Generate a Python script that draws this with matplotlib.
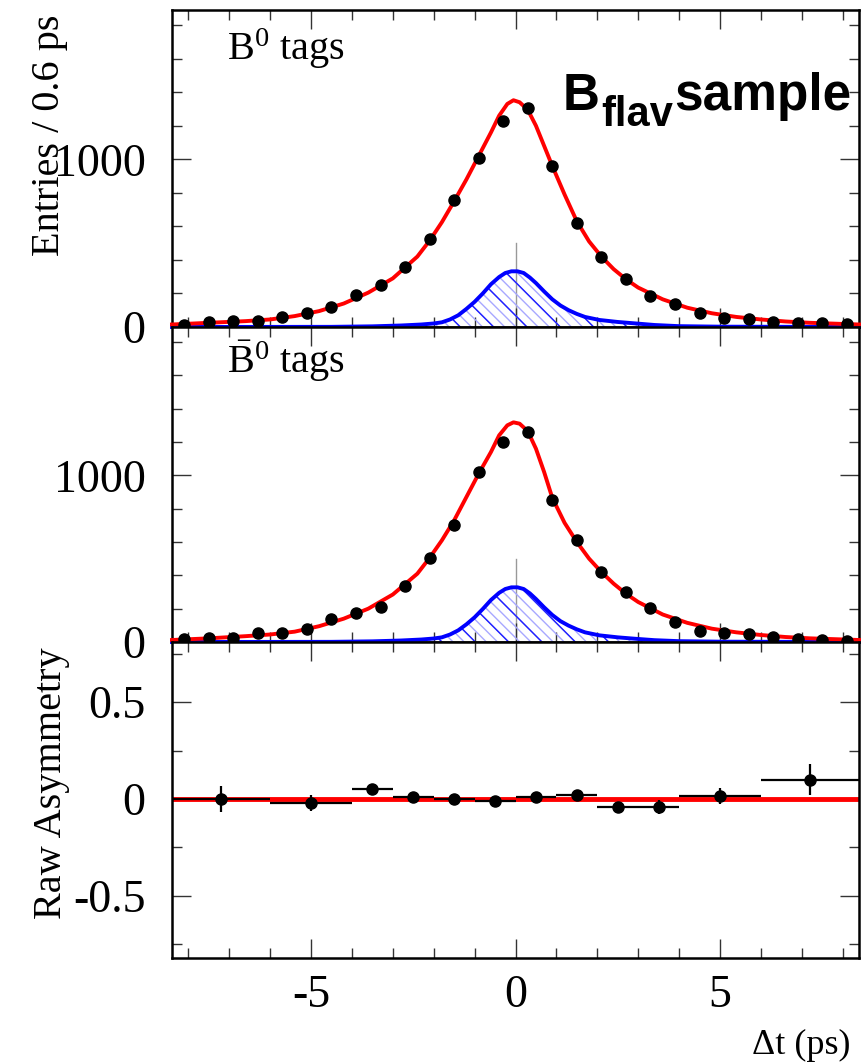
import matplotlib
matplotlib.use("Agg")
import matplotlib.pyplot as plt
import numpy as np
from matplotlib.ticker import MultipleLocator, FuncFormatter

plt.rcParams["font.family"] = ["Liberation Serif", "DejaVu Serif"]
plt.rcParams["mathtext.fontset"] = "custom"
plt.rcParams["mathtext.rm"] = "Liberation Serif"
plt.rcParams["mathtext.it"] = "Liberation Serif:italic"
plt.rcParams["axes.unicode_minus"] = False
plt.rcParams["hatch.linewidth"] = 1.0

# bin centres of the 0.6 ps histograms
dt_bins = [-8.1, -7.5, -6.9, -6.3, -5.7, -5.1, -4.5, -3.9, -3.3, -2.7, -2.1, -1.5, -0.9, -0.3,
           0.3, 0.9, 1.5, 2.1, 2.7, 3.3, 3.9, 4.5, 5.1, 5.7, 6.3, 6.9, 7.5, 8.1]

b0_counts = [14, 30, 34, 38, 60, 84, 120, 192, 251, 360, 527, 760, 1006, 1228,
             1305, 958, 623, 419, 287, 186, 138, 84, 54, 48, 30, 24, 22, 18]
b0bar_counts = [18, 26, 26, 54, 54, 76, 141, 177, 210, 339, 504, 700, 1020, 1202,
                1258, 855, 613, 423, 300, 204, 121, 65, 52, 46, 28, 16, 12, 6]

# fit curves
fit_x = [-8.4, -7.5, -6.6, -6.0, -5.4, -4.8, -4.2, -3.6, -3.0, -2.4, -2.1, -1.8, -1.5, -1.2,
         -0.9, -0.6, -0.4, -0.2, -0.05, 0.1, 0.3, 0.5, 0.7, 0.9, 1.2, 1.5, 1.8, 2.1, 2.4,
         2.7, 3.0, 3.6, 4.2, 4.8, 5.4, 6.0, 6.6, 7.2, 7.8, 8.4]
b0_fit = [15, 25, 35, 45, 65, 95, 140, 205, 290, 420, 515, 625, 750, 880,
          1020, 1160, 1260, 1330, 1352, 1340, 1295, 1200, 1080, 960, 790, 630, 510, 420, 345,
          285, 235, 165, 115, 82, 60, 45, 33, 25, 20, 15]
b0bar_fit = [12, 22, 35, 45, 62, 95, 140, 200, 285, 410, 505, 610, 730, 870,
             1010, 1140, 1240, 1300, 1318, 1310, 1265, 1160, 1020, 865, 715, 600, 500, 420, 350,
             290, 240, 165, 115, 80, 58, 42, 30, 22, 17, 12]

bkg_x = [-8.4, -4.5, -3.5, -2.8, -2.3, -2.0, -1.8, -1.6, -1.4, -1.2, -1.0, -0.8, -0.6, -0.4,
         -0.25, -0.1, 0.05, 0.2, 0.35, 0.5, 0.7, 0.9, 1.1, 1.3, 1.5, 1.7, 2.05, 2.5, 2.9,
         3.4, 4.0, 5.0, 8.4]
b0_bkg = [0, 1, 4, 9, 15, 21, 28, 45, 70, 108, 150, 200, 255, 298,
          322, 332, 332, 322, 295, 262, 212, 165, 128, 100, 78, 60, 42, 30, 22,
          12, 5, 2, 0]
b0bar_bkg = [0, 1, 4, 9, 15, 21, 28, 45, 70, 106, 148, 198, 252, 295,
             318, 328, 328, 318, 292, 258, 208, 162, 125, 98, 76, 58, 40, 28, 20,
             11, 5, 2, 0]

# raw asymmetry, variable bins
asym_x = [-7.2, -5.0, -3.5, -2.5, -1.5, -0.5, 0.5, 1.5, 2.5, 3.5, 5.0, 7.2]
asym_xerr = [1.2, 1.0, 0.5, 0.5, 0.5, 0.5, 0.5, 0.5, 0.5, 0.5, 1.0, 1.2]
asym_y = [0.0, -0.02, 0.05, 0.01, 0.0, -0.01, 0.01, 0.02, -0.04, -0.04, 0.015, 0.10]
asym_yerr = [0.067, 0.04, 0.03, 0.02, 0.015, 0.015, 0.015, 0.02, 0.025, 0.035, 0.04, 0.08]
asym_fit_x = [-8.4, 8.4]
asym_fit_y = [0.0, 0.0]

W, H = 866, 1062
fig = plt.figure(figsize=(W / 100, H / 100), dpi=100)

def px_axes(top, bottom, left=172, right=859):
    return fig.add_axes([left / W, 1 - bottom / H, (right - left) / W, (bottom - top) / H])

ax1 = px_axes(10, 327)
ax2 = px_axes(327, 642)
ax3 = px_axes(642, 958)

fmt = FuncFormatter(lambda v, p: "%g" % v)

for ax in (ax1, ax2, ax3):
    ax.set_xlim(-8.4, 8.4)
    ax.xaxis.set_major_locator(MultipleLocator(5))
    ax.xaxis.set_minor_locator(MultipleLocator(1))
    ax.tick_params(which="both", direction="in", top=True, right=True, width=1.0,
                   labelsize=33, color="#333333")
    ax.tick_params(which="major", length=14)
    ax.tick_params(which="minor", length=7)
    ax.tick_params(axis="y", pad=19)
    ax.tick_params(axis="x", pad=12)
    ax.xaxis.set_major_formatter(fmt)
    ax.yaxis.set_major_formatter(fmt)
    for s in ax.spines.values():
        s.set_linewidth(1.8)

for ax, counts, fit, bkg in ((ax1, b0_counts, b0_fit, b0_bkg),
                            (ax2, b0bar_counts, b0bar_fit, b0bar_bkg)):
    ax.set_ylim(0, 1890)
    ax.yaxis.set_major_locator(MultipleLocator(1000))
    ax.yaxis.set_minor_locator(MultipleLocator(200))
    ax.tick_params(axis="x", labelbottom=False)
    ax.fill_between(bkg_x, 0, bkg, facecolor="none", edgecolor="#a8a8ff", hatch="\\\\\\",
                    linewidth=0, zorder=2)
    ax.fill_between(bkg_x, 0, bkg, facecolor="none", edgecolor="#2020ff", hatch="\\",
                    linewidth=0, zorder=2)
    ax.axvline(0, ymin=0, ymax=0.265, color="#999999", lw=1.0, zorder=1)
    ax.plot(bkg_x, bkg, color="#0000ff", lw=2.8, zorder=3, clip_on=False)
    ax.plot(fit_x, fit, color="#ff0000", lw=2.8, zorder=4, clip_on=False)
    ax.plot(dt_bins, counts, "o", color="black", ms=8, zorder=5)

ax3.set_ylim(-0.82, 0.81)
ax3.yaxis.set_major_locator(MultipleLocator(0.5))
ax3.yaxis.set_minor_locator(MultipleLocator(0.25))
ax3.plot(asym_fit_x, asym_fit_y, color="#ff0000", lw=3.5, zorder=2)
ax3.errorbar(asym_x, asym_y, xerr=asym_xerr, yerr=asym_yerr, fmt="o", color="black",
             ms=8, elinewidth=1.6, capsize=0, zorder=3)

fig.text(50 / W, 1 - 135 / H, "Entries / 0.6 ps", rotation=90, ha="center", va="center",
         fontsize=29)
fig.text(51 / W, 1 - 783 / H, "Raw Asymmetry", rotation=90, ha="center", va="center",
         fontsize=29)
fig.text(851 / W, 1 - 1045 / H, "\u0394t (ps)", ha="right", va="center", fontsize=26)

fig.text(227 / W, 1 - 60 / H, r"$\mathrm{B}^{0}$ tags", ha="left", va="baseline", fontsize=29)
fig.text(227 / W, 1 - 373 / H, r"$\bar{\mathrm{B}}^{0}$ tags", ha="left", va="baseline",
         fontsize=29)

bold = dict(family=["Liberation Sans", "DejaVu Sans"], fontweight="bold")
fig.text(563 / W, 1 - 110 / H, "B", ha="left", va="baseline", fontsize=37, **bold)
fig.text(601 / W, 1 - 126 / H, "flav", ha="left", va="baseline", fontsize=30, **bold)
fig.text(674 / W, 1 - 110 / H, "sample", ha="left", va="baseline", fontsize=37, **bold)

fig.savefig("out.png", dpi=100)
